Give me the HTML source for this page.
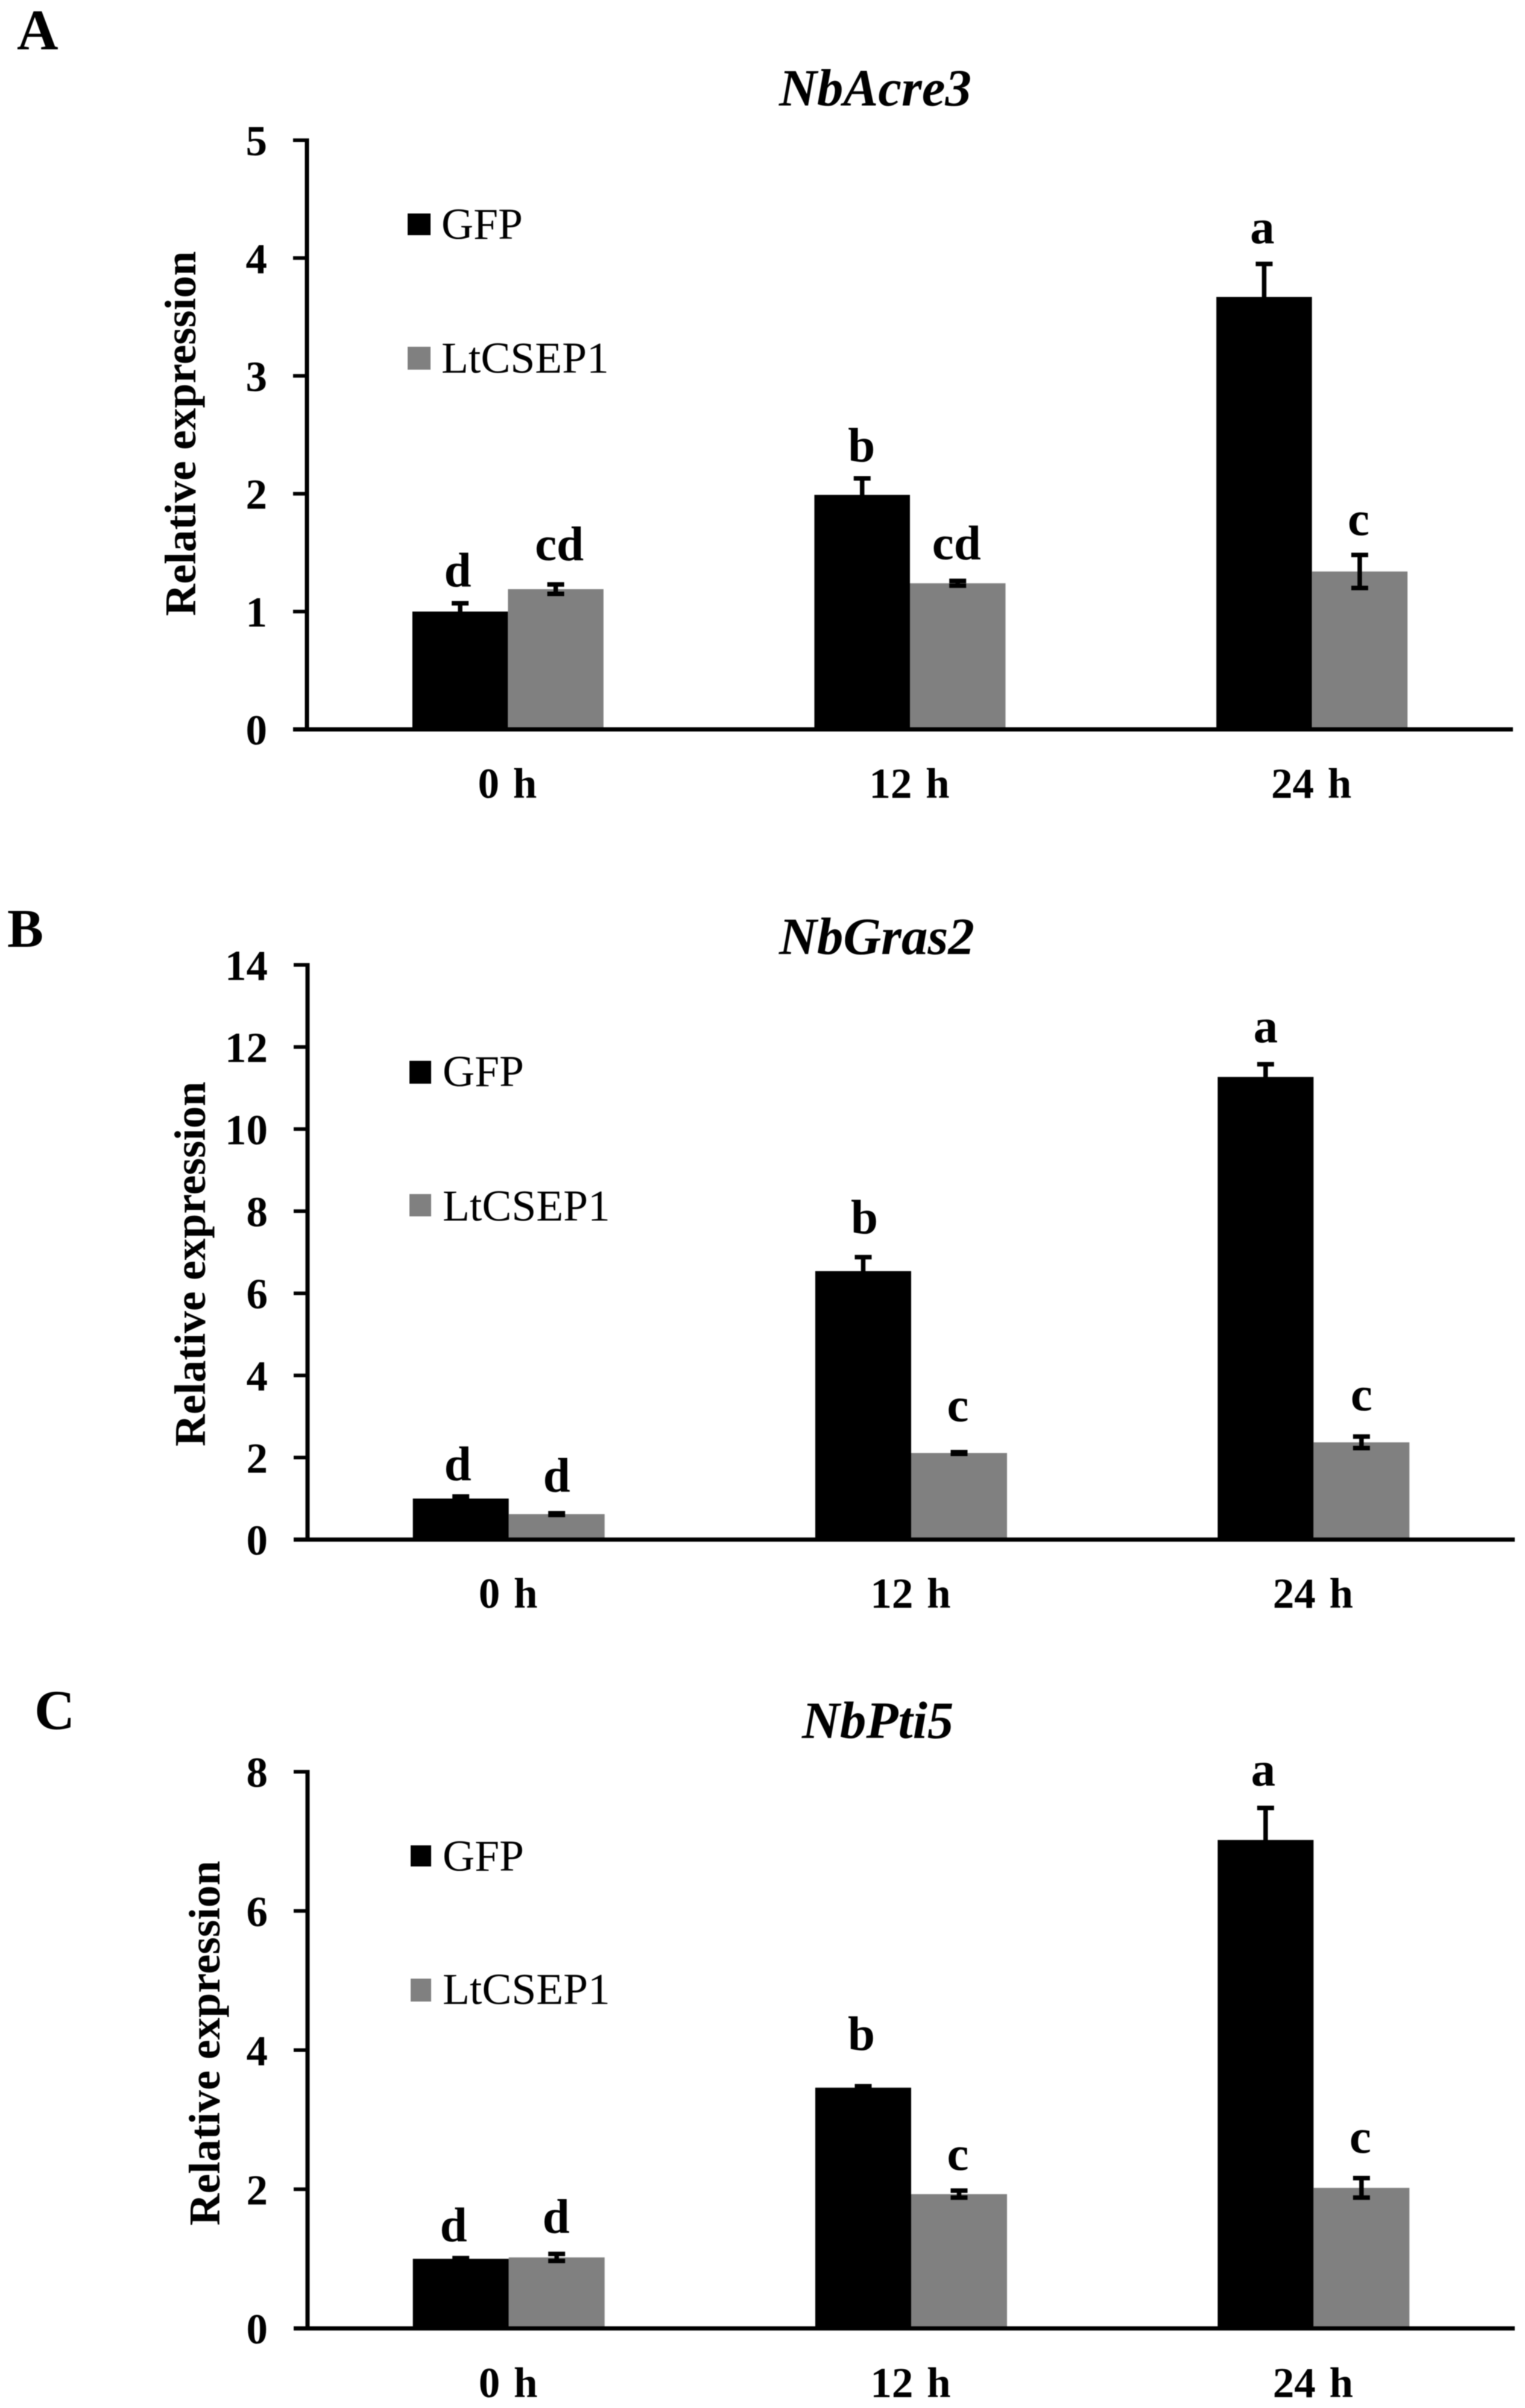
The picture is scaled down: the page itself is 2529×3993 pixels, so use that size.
<!DOCTYPE html>
<html lang="en">
<head>
<meta charset="utf-8">
<title>Relative expression of NbAcre3, NbGras2 and NbPti5</title>
<style>
html,body{margin:0;padding:0;background:#fff;}
svg{display:block;filter:blur(0.7px);}
text{font-family:"Liberation Serif",serif;fill:#000;}
</style>
</head>
<body>
<svg id="figure" xmlns="http://www.w3.org/2000/svg" width="2529" height="3993" viewBox="0 0 2529 3993"></svg>
<script>
const timeCategories = ['0 h', '12 h', '24 h'];
const seriesNames = ['GFP', 'LtCSEP1'];

const acreTicks = [0, 1, 2, 3, 4, 5];
const acreGfp = [1.00, 1.99, 3.67];
const acreGfpErr = [0.07, 0.14, 0.28];
const acreLt = [1.19, 1.24, 1.34];
const acreLtErr = [0.04, 0.02, 0.14];
const acreGfpLetters = ['d', 'b', 'a'];
const acreLtLetters = ['cd', 'cd', 'c'];

const grasTicks = [0, 2, 4, 6, 8, 10, 12, 14];
const grasGfp = [1.00, 6.54, 11.27];
const grasGfpErr = [0.05, 0.34, 0.31];
const grasLt = [0.62, 2.11, 2.37];
const grasLtErr = [0.02, 0.02, 0.14];
const grasGfpLetters = ['d', 'b', 'a'];
const grasLtLetters = ['d', 'c', 'c'];

const ptiTicks = [0, 2, 4, 6, 8];
const ptiGfp = [1.00, 3.46, 7.02];
const ptiGfpErr = [0.01, 0.02, 0.46];
const ptiLt = [1.02, 1.93, 2.02];
const ptiLtErr = [0.05, 0.05, 0.14];
const ptiGfpLetters = ['d', 'b', 'a'];
const ptiLtLetters = ['d', 'c', 'c'];

const svg = document.getElementById('figure');
const NS = 'http://www.w3.org/2000/svg';

function make(tag, attrs, parent, content) {
  const node = document.createElementNS(NS, tag);
  for (const key in attrs) node.setAttribute(key, attrs[key]);
  if (content !== undefined) node.textContent = content;
  parent.appendChild(node);
  return node;
}

function drawPanel(p) {
  const group = make('g', {}, svg);
  
  

  const yScale = v => p.baseY - (v / p.ticks[p.ticks.length - 1]) * (p.baseY - p.topY);
  const band = (p.rightX - p.axisX) / p.categories.length;
  const xCenter = i => p.axisX + (i + 0.5) * band;

  const letter = make('text', {x: p.letterX, y: p.letterY, 'font-size': p.letterSize, 'font-weight': 'bold'}, group, p.id);
  
  

  const title = make('text', {x: p.titleX, y: p.titleY, 'font-size': 87, 'font-weight': 'bold', 'font-style': 'italic'}, group, p.title);
  
  

  const yTitle = make('text', {
    transform: 'translate(' + p.yTitleX + ',' + p.yTitleY + ') rotate(-90)',
    'font-size': 73.5, 'font-weight': 'bold', 'text-anchor': 'middle'
  }, group, 'Relative expression');
  
  

  // bars
  p.series.forEach((s, si) => {
    s.values.forEach((v, i) => {
      const left = xCenter(i) + (si - 1) * p.barWidth;
      const bar = make('rect', {x: left, y: yScale(v), width: p.barWidth, height: p.baseY - yScale(v), fill: s.color}, group);
      
      
    });
  });

  // error bars and significance letters
  p.series.forEach((s, si) => {
    s.values.forEach((v, i) => {
      const cx = xCenter(i) + (si - 0.5) * p.barWidth;
      const top = yScale(v + s.errors[i]);
      const bottom = yScale(v - s.errors[i]);
      const err = make('path', {
        d: 'M' + cx + ' ' + top + 'V' + bottom + 'M' + (cx - 14) + ' ' + top + 'H' + (cx + 14) + 'M' + (cx - 14) + ' ' + bottom + 'H' + (cx + 14),
        stroke: '#000', 'stroke-width': 7.5, fill: 'none'
      }, group);
      
      

      const sig = make('text', {
        x: cx + s.letterDx[i], y: top - s.letterGap[i],
        'font-size': 81, 'font-weight': 'bold', 'text-anchor': 'middle'
      }, group, s.letters[i]);
      
      
    });
  });

  // y axis
  const yAxis = make('line', {x1: p.axisX, x2: p.axisX, y1: yScale(p.ticks[p.ticks.length - 1]) - 3, y2: p.baseY, stroke: '#000', 'stroke-width': 7}, group);
  
  

  p.ticks.forEach(t => {
    const mark = make('line', {x1: p.axisX - 23, x2: p.axisX, y1: yScale(t), y2: yScale(t), stroke: '#000', 'stroke-width': 6}, group);
    
    
    const label = make('text', {x: p.axisX - 66, y: yScale(t) + 25, 'font-size': 71, 'font-weight': 'bold', 'text-anchor': 'end'}, group, String(t));
    
    
  });

  // x axis
  const xAxis = make('line', {x1: p.axisX - 23, x2: p.rightX, y1: p.baseY, y2: p.baseY, stroke: '#000', 'stroke-width': 7}, group);
  
  

  p.categories.forEach((c, i) => {
    const label = make('text', {x: xCenter(i) - 1, y: p.xLabelY, 'font-size': 71, 'font-weight': 'bold', 'text-anchor': 'middle', 'word-spacing': 5}, group, c);
    
    
  });

  // legend
  p.series.forEach((s, si) => {
    const box = p.legend[si];
    const swatch = make('rect', {x: p.legendX, y: box.top, width: p.legendW, height: box.h, fill: s.color}, group);
    
    
    const text = make('text', {x: p.legendTextX, y: box.base, 'font-size': 73.5}, group, s.name);
    
    
  });
}

drawPanel({
  id: 'A', title: 'NbAcre3', categories: timeCategories, ticks: acreTicks,
  axisX: 509, rightX: 2509, topY: 232.5, baseY: 1209.5, barWidth: 158.5, xLabelY: 1323,
  letterX: 28, letterY: 82, letterSize: 95, titleX: 1292, titleY: 175,
  yTitleX: 324, yTitleY: 719,
  legendX: 676, legendW: 38, legendTextX: 732,
  legend: [{top: 354, h: 36, base: 396}, {top: 575, h: 38, base: 618}],
  series: [
    {name: seriesNames[0], color: '#000000', values: acreGfp, errors: acreGfpErr, letters: acreGfpLetters, letterGap: [28, 28, 34], letterDx: [-4, -1, -3]},
    {name: seriesNames[1], color: '#808080', values: acreLt, errors: acreLtErr, letters: acreLtLetters, letterGap: [40, 36, 33], letterDx: [6, -2, -2]}
  ]
});

drawPanel({
  id: 'B', title: 'NbGras2', categories: timeCategories, ticks: grasTicks,
  axisX: 510, rightX: 2512, topY: 1600, baseY: 2553, barWidth: 159, xLabelY: 2666,
  letterX: 12, letterY: 1570, letterSize: 90, titleX: 1292, titleY: 1582,
  yTitleX: 340, yTitleY: 2096,
  legendX: 679, legendW: 36, legendTextX: 734,
  legend: [{top: 1759, h: 38, base: 1801}, {top: 1980, h: 37, base: 2024}],
  series: [
    {name: seriesNames[0], color: '#000000', values: grasGfp, errors: grasGfpErr, letters: grasGfpLetters, letterGap: [27, 39, 36], letterDx: [-5, 2, 0]},
    {name: seriesNames[1], color: '#808080', values: grasLt, errors: grasLtErr, letters: grasLtLetters, letterGap: [36, 51, 43], letterDx: [0, -2, 0]}
  ]
});

drawPanel({
  id: 'C', title: 'NbPti5', categories: timeCategories, ticks: ptiTicks,
  axisX: 510, rightX: 2512, topY: 2938, baseY: 3861, barWidth: 159, xLabelY: 3975,
  letterX: 57, letterY: 2867, letterSize: 93, titleX: 1330, titleY: 2882,
  yTitleX: 364, yTitleY: 3388,
  legendX: 681, legendW: 34, legendTextX: 734,
  legend: [{top: 3060, h: 35, base: 3102}, {top: 3281, h: 38, base: 3323}],
  series: [
    {name: seriesNames[0], color: '#000000', values: ptiGfp, errors: ptiGfpErr, letters: ptiGfpLetters, letterGap: [28, 60, 37], letterDx: [-12, -3, -4]},
    {name: seriesNames[1], color: '#808080', values: ptiLt, errors: ptiLtErr, letters: ptiLtLetters, letterGap: [35, 34, 42], letterDx: [-1, -2, -2]}
  ]
});
</script>
</body>
</html>
